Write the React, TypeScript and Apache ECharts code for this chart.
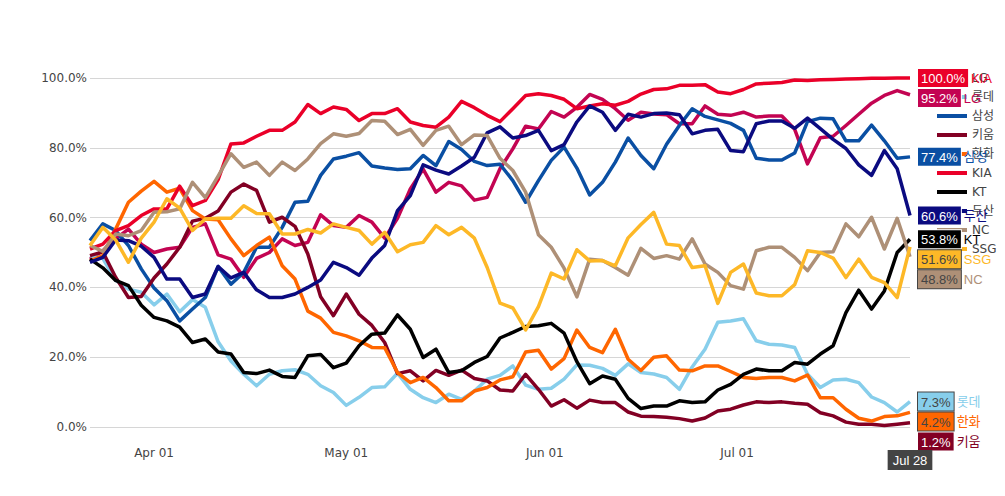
import React, { useEffect, useRef } from "react";
import * as echarts from "echarts";

// sample dates (every 2 days, 2025-03-22 .. 2025-07-28)
const dates = [
  "2025-03-22", "2025-03-24", "2025-03-26", "2025-03-28", "2025-03-30",
  "2025-04-01", "2025-04-03", "2025-04-05", "2025-04-07", "2025-04-09",
  "2025-04-11", "2025-04-13", "2025-04-15", "2025-04-17", "2025-04-19",
  "2025-04-21", "2025-04-23", "2025-04-25", "2025-04-27", "2025-04-29",
  "2025-05-01", "2025-05-03", "2025-05-05", "2025-05-07", "2025-05-09",
  "2025-05-11", "2025-05-13", "2025-05-15", "2025-05-17", "2025-05-19",
  "2025-05-21", "2025-05-23", "2025-05-25", "2025-05-27", "2025-05-29",
  "2025-05-31", "2025-06-02", "2025-06-04", "2025-06-06", "2025-06-08",
  "2025-06-10", "2025-06-12", "2025-06-14", "2025-06-16", "2025-06-18",
  "2025-06-20", "2025-06-22", "2025-06-24", "2025-06-26", "2025-06-28",
  "2025-06-30", "2025-07-02", "2025-07-04", "2025-07-06", "2025-07-08",
  "2025-07-10", "2025-07-12", "2025-07-14", "2025-07-16", "2025-07-18",
  "2025-07-20", "2025-07-22", "2025-07-24", "2025-07-26", "2025-07-28",
];

const xTickDates = ["2025-04-01", "2025-05-01", "2025-06-01", "2025-07-01"];
const xTickLabels = ["Apr 01", "May 01", "Jun 01", "Jul 01"];
const lastDateLabel = "Jul 28";
const yTicks = [0, 20, 40, 60, 80, 100];

const lgValues = [
  48.1, 50.5, 53.9, 56.7, 52.4, 50.0, 51.0, 51.5, 57.2, 58.2, 49.3, 48.1, 42.9, 48.3, 50.0, 53.9, 52.0,
  52.9, 60.8, 57.7, 57.2, 60.6, 58.7, 54.1, 59.8, 68.2, 73.9, 67.3, 70.1, 69.1, 65.0, 65.8, 74.0,
  79.7, 86.2, 85.4, 90.4, 88.8, 91.6, 95.3, 93.9, 91.2, 87.9, 90.2, 89.7, 89.5, 86.9, 86.9, 92.0,
  89.6, 89.3, 90.2, 88.8, 89.1, 89.1, 85.3, 75.4, 82.9, 83.3, 86.4, 89.6, 92.8, 95.0, 96.4, 95.2,
];
const lotteValues = [
  49.1, 48.3, 42.0, 39.5, 38.6, 35.0, 38.1, 33.0, 36.5, 34.3, 24.4, 18.9, 15.1, 11.8, 15.1, 16.1, 16.4,
  15.1, 11.8, 9.9, 6.2, 8.5, 11.3, 11.5, 15.4, 10.8, 8.4, 7.0, 9.4, 7.9, 10.3, 13.7, 14.8,
  17.5, 12.0, 10.8, 11.1, 13.7, 17.8, 17.7, 16.8, 14.8, 18.1, 15.6, 15.2, 14.2, 10.8, 17.2, 22.3,
  30.0, 30.4, 31.0, 24.7, 23.7, 23.5, 22.8, 15.1, 11.3, 13.5, 13.7, 12.7, 8.6, 7.0, 4.3, 7.3,
];
const samsungValues = [
  53.4, 58.2, 56.3, 52.0, 45.3, 39.8, 36.2, 30.4, 33.8, 37.1, 46.0, 40.9, 44.3, 51.5, 51.5, 57.2, 64.4,
  64.7, 72.1, 76.8, 77.6, 78.6, 74.8, 74.2, 73.8, 74.0, 77.8, 74.9, 81.8, 79.5, 76.1, 74.9, 75.3,
  70.6, 64.4, 70.6, 76.4, 80.2, 74.2, 66.5, 70.1, 75.9, 82.8, 77.8, 74.0, 81.0, 86.4, 91.2, 89.0,
  88.0, 87.0, 85.0, 77.0, 76.5, 76.5, 78.5, 87.5, 88.5, 88.3, 82.0, 82.0, 86.5, 82.0, 77.0, 77.4,
];
const kiwoomValues = [
  49.1, 50.2, 42.9, 37.1, 37.4, 42.7, 46.7, 51.5, 59.0, 59.8, 61.9, 67.3, 69.6, 67.8, 58.7, 60.1, 57.5,
  49.6, 37.3, 31.9, 38.1, 32.3, 29.1, 24.2, 15.3, 16.1, 13.2, 16.2, 14.8, 16.3, 13.9, 13.2, 10.6,
  10.3, 15.1, 10.8, 6.0, 7.8, 5.4, 7.7, 7.0, 7.0, 4.3, 3.1, 3.0, 2.8, 2.4, 1.7, 2.6,
  4.6, 5.1, 6.3, 7.2, 7.0, 7.2, 6.8, 6.5, 4.1, 3.2, 1.4, 0.8, 0.8, 0.4, 0.8, 1.2,
];
const hanwhaValues = [
  47.5, 49.1, 56.7, 64.4, 67.6, 70.4, 67.3, 68.4, 62.0, 59.6, 59.4, 53.9, 49.1, 52.0, 54.4, 46.2, 42.4,
  33.2, 31.2, 27.1, 26.1, 24.7, 22.8, 22.7, 15.6, 12.7, 14.2, 11.3, 7.5, 7.5, 10.3, 11.3, 13.5,
  14.4, 21.5, 22.0, 16.6, 19.6, 27.8, 22.8, 21.3, 28.0, 19.4, 16.2, 20.0, 20.4, 16.3, 16.1, 17.5,
  17.5, 15.9, 14.2, 13.9, 14.2, 14.2, 13.2, 14.9, 8.4, 8.4, 5.1, 2.5, 1.7, 3.0, 3.2, 4.2,
];
const kiaValues = [
  51.0, 52.4, 56.3, 57.7, 60.6, 62.5, 62.5, 69.0, 63.4, 64.9, 70.9, 81.1, 81.4, 83.3, 85.0, 85.0, 87.4,
  92.4, 89.8, 91.7, 91.0, 87.8, 89.8, 89.8, 91.2, 87.4, 86.4, 85.9, 88.8, 93.3, 91.5, 89.3, 87.5,
  91.2, 95.0, 95.5, 95.0, 93.9, 91.2, 92.0, 92.6, 92.2, 93.3, 95.4, 96.7, 96.9, 97.9, 97.9, 98.1,
  96.0, 95.5, 96.7, 98.3, 98.5, 98.7, 99.4, 99.3, 99.5, 99.6, 99.7, 99.8, 99.9, 99.9, 100.0, 100.0,
];
const ktValues = [
  48.1, 45.6, 42.0, 40.5, 34.9, 31.4, 30.4, 28.6, 24.2, 25.2, 21.5, 20.9, 15.6, 15.3, 16.3, 14.5, 14.2,
  20.4, 20.8, 17.0, 18.3, 23.3, 26.6, 26.9, 32.1, 28.0, 19.9, 22.3, 15.6, 16.1, 18.5, 20.2, 25.5,
  27.1, 28.8, 29.0, 29.7, 26.9, 18.7, 12.4, 14.6, 13.7, 8.2, 5.3, 6.0, 6.0, 7.5, 7.0, 7.2,
  10.6, 12.2, 15.1, 16.6, 16.1, 16.1, 18.5, 18.0, 20.9, 23.3, 32.8, 39.2, 33.8, 39.0, 50.0, 53.8,
];
const doosanValues = [
  47.2, 48.6, 53.6, 53.4, 51.8, 48.6, 42.4, 42.4, 37.1, 38.1, 46.0, 42.7, 44.3, 39.3, 37.1, 37.1, 38.1,
  40.0, 42.1, 47.2, 45.7, 43.5, 48.4, 52.0, 62.0, 66.3, 75.1, 73.6, 72.5, 74.8, 77.3, 84.3, 86.0,
  82.8, 83.5, 85.0, 79.2, 80.9, 87.4, 92.0, 90.2, 85.0, 89.6, 88.8, 89.8, 90.0, 89.5, 84.0, 85.0,
  85.3, 79.2, 78.9, 86.9, 87.7, 87.7, 85.6, 88.5, 85.5, 82.4, 79.8, 75.1, 72.1, 79.2, 74.0, 60.6,
];
const ncValues = [
  52.0, 50.3, 55.3, 54.8, 56.3, 61.5, 61.7, 62.5, 70.1, 65.7, 71.9, 78.3, 74.4, 75.9, 72.1, 75.9, 73.5,
  76.8, 81.2, 84.0, 83.3, 84.1, 87.8, 87.6, 83.8, 85.3, 80.7, 85.0, 86.2, 80.9, 83.7, 83.5, 77.0,
  73.5, 67.3, 55.1, 51.5, 45.5, 37.3, 48.1, 47.7, 45.7, 43.5, 51.2, 48.3, 49.1, 48.1, 53.9, 46.7,
  44.3, 40.5, 39.5, 50.5, 51.5, 51.5, 48.6, 44.8, 50.0, 50.2, 58.2, 54.5, 60.1, 51.0, 59.8, 48.8,
];
const ssgValues = [
  52.0, 57.2, 53.6, 47.2, 54.1, 58.7, 65.4, 62.7, 56.3, 59.6, 59.8, 59.8, 63.4, 61.2, 61.1, 55.3, 55.3,
  56.6, 55.6, 58.2, 57.2, 56.3, 52.4, 55.8, 50.2, 52.2, 52.9, 57.7, 55.1, 57.2, 54.1, 45.7, 35.5,
  34.1, 27.8, 34.5, 44.1, 42.4, 50.8, 47.6, 47.7, 46.2, 54.2, 58.0, 61.5, 52.4, 52.0, 45.7, 46.2,
  35.4, 44.3, 46.7, 38.4, 37.6, 37.6, 40.8, 50.5, 50.0, 48.4, 42.8, 48.1, 42.9, 41.4, 37.1, 51.6,
];

const teams = ["LG", "롯데", "삼성", "키움", "한화", "KIA", "KT", "두산", "NC", "SSG"];
const teamValues = [
  lgValues, lotteValues, samsungValues, kiwoomValues, hanwhaValues,
  kiaValues, ktValues, doosanValues, ncValues, ssgValues,
];
const teamColors = [
  "#C30452", "#87CEEB", "#0A4FA3", "#820024", "#FF6600",
  "#EA0029", "#000000", "#0B0B80", "#AE9077", "#FDB827",
];
const labelTextColors = [
  "#ffffff", "#444444", "#ffffff", "#ffffff", "#444444",
  "#ffffff", "#ffffff", "#ffffff", "#444444", "#444444",
];

const DAY = 86400000;
const toTs = (s: string) => {
  const [y, m, d] = s.split("-").map(Number);
  return Date.UTC(y, m - 1, d);
};
const dayIndex = (s: string) => Math.round((toTs(s) - toTs(dates[0])) / DAY);

export default function App() {
  const ref = useRef<HTMLDivElement>(null);

  useEffect(() => {
    if (!ref.current) return;
    const chart = echarts.init(ref.current, undefined, { renderer: "svg" });
    const tickDays = xTickDates.map(dayIndex);
    const lastDay = dayIndex(dates[dates.length - 1]);

    const series = teams.map((name, i) => ({
      name,
      type: "line",
      data: dates.map((d, j) => [dayIndex(d), teamValues[i][j]]),
      showSymbol: false,
      symbol: "none",
      clip: false,
      z: 3,
      color: teamColors[i],
      lineStyle: { width: 3.5, color: teamColors[i], join: "round" },
      labelLayout: { moveOverlap: "shiftY" },
      endLabel: {
        show: true,
        distance: 8,
        formatter: (p: any) => `{v|${Number(p.value[1]).toFixed(1)}%}{n|${name}}`,
        rich: {
          v: {
            backgroundColor: teamColors[i],
            color: labelTextColors[i],
            borderColor: labelTextColors[i],
            borderWidth: 1,
            fontFamily: "Liberation Sans, Arial, sans-serif",
            fontSize: 13,
            padding: [3, 3, 2, 3],
            lineHeight: 15,
          },
          n: {
            color: teamColors[i],
            fontFamily: "Liberation Sans, Noto Sans CJK KR, sans-serif",
            fontSize: 13,
            padding: [0, 0, 0, 3],
          },
        },
      },
    }));

    chart.setOption({
      animation: false,
      textStyle: { fontFamily: "DejaVu Sans, Verdana, sans-serif" },
      grid: { left: 90, right: 95, top: 78, bottom: 69, containLabel: false },
      legend: {
        data: teams,
        orient: "vertical",
        left: 932,
        top: 66,
        z: 1,
        icon: "rect",
        itemWidth: 30,
        itemHeight: 4,
        itemGap: 5,
        selectedMode: false,
        textStyle: {
          color: "#444",
          fontSize: 12,
          lineHeight: 14,
          fontFamily: "DejaVu Sans, Noto Sans CJK KR, sans-serif",
        },
      },
      xAxis: {
        type: "value",
        min: 0,
        max: lastDay,
        axisLine: { show: false },
        axisTick: { show: false },
        splitLine: { show: false },
        axisLabel: {
          customValues: tickDays,
          color: "#444",
          fontSize: 12,
          margin: 20,
          formatter: (v: number) => {
            const k = tickDays.indexOf(v);
            return k >= 0 ? xTickLabels[k] : "";
          },
        },
        axisPointer: {
          show: true,
          type: "line",
          value: lastDay,
          status: "show",
          snap: false,
          triggerTooltip: false,
          lineStyle: { opacity: 0 },
          label: {
            show: true,
            formatter: () => lastDateLabel,
            backgroundColor: "#444",
            color: "#fff",
            fontFamily: "Liberation Sans, Arial, sans-serif",
            fontSize: 13,
            padding: [4, 5, 3, 5],
            margin: 23,
            borderRadius: 0,
          },
        },
      },
      yAxis: {
        type: "value",
        min: yTicks[0],
        max: yTicks[yTicks.length - 1],
        interval: 20,
        axisLine: { show: false },
        axisTick: { show: false },
        splitLine: { lineStyle: { color: "#d6d6d6", width: 1 } },
        axisLabel: {
          color: "#444",
          fontSize: 12,
          margin: 3,
          formatter: (v: number) => `${v.toFixed(1)}%`,
        },
      },
      series,
    });

    return () => chart.dispose();
  }, []);

  return (
    <div
      ref={ref}
      style={{ position: "fixed", left: 0, top: 0, width: 1005, height: 496, background: "#fff" }}
    />
  );
}
